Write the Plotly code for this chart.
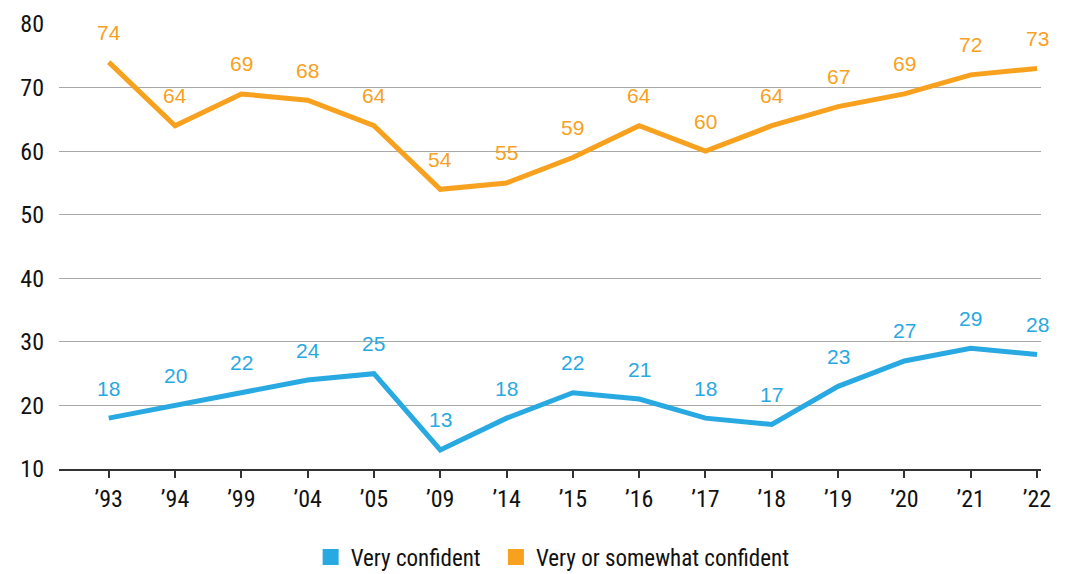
import plotly.graph_objects as go

years = ["’93", "’94", "’99", "’04", "’05", "’09", "’14", "’15", "’16", "’17", "’18", "’19", "’20", "’21", "’22"]
very_confident = [18, 20, 22, 24, 25, 13, 18, 22, 21, 18, 17, 23, 27, 29, 28]
very_or_somewhat = [74, 64, 69, 68, 64, 54, 55, 59, 64, 60, 64, 67, 69, 72, 73]

BLUE = "#29a9e1"
ORANGE = "#f7a11e"
AXFONT = "Liberation Sans Narrow, Roboto Condensed, Liberation Sans, Arial"
x = list(range(len(years)))

fig = go.Figure()
for name, vals, col in [("Very confident", very_confident, BLUE),
                        ("Very or somewhat confident", very_or_somewhat, ORANGE)]:
    fig.add_trace(go.Scatter(
        x=x, y=vals, name=name, mode="lines", showlegend=False,
        line=dict(color=col, width=5), cliponaxis=False,
    ))
    for xi, v in zip(x, vals):
        fig.add_annotation(x=xi, y=v, text=str(v), showarrow=False,
                           yanchor="middle", yshift=30,
                           font=dict(color=col, size=21, family="Liberation Sans, Arial"))
    # legend proxy with square swatch
    fig.add_trace(go.Scatter(
        x=[None], y=[None], name=name + "\u2002", mode="markers",
        marker=dict(symbol="square", size=18, color=col), showlegend=True,
    ))

fig.update_layout(
    width=1057, height=566,
    margin=dict(l=51, r=24, t=16, b=105),
    plot_bgcolor="white", paper_bgcolor="white",
    font=dict(family=AXFONT, size=24, color="#111"),
    showlegend=True,
    legend=dict(orientation="h", x=0.52, xanchor="center", xref="container",
                y=0.03, yanchor="middle", yref="container",
                font=dict(size=23, family=AXFONT, color="#111"),
                itemsizing="trace", traceorder="normal"),
    xaxis=dict(
        range=[-0.75, 14.06], tickmode="array", tickvals=x, ticktext=years,
        showgrid=False, zeroline=False, showline=True, linecolor="#333", linewidth=1.5,
        ticks="outside", ticklen=7, tickcolor="#333", tickwidth=1.5,
        tickfont=dict(size=24, family=AXFONT), automargin=False,
    ),
    yaxis=dict(
        range=[10, 80], tickvals=[10, 20, 30, 40, 50, 60, 70, 80],
        showgrid=True, gridcolor="#a8a8a8", gridwidth=1, zeroline=False, showline=False,
        ticks="", ticklabelstandoff=14, automargin=False,
        tickfont=dict(size=24, family=AXFONT),
    ),
)

fig.write_html("out.html")
